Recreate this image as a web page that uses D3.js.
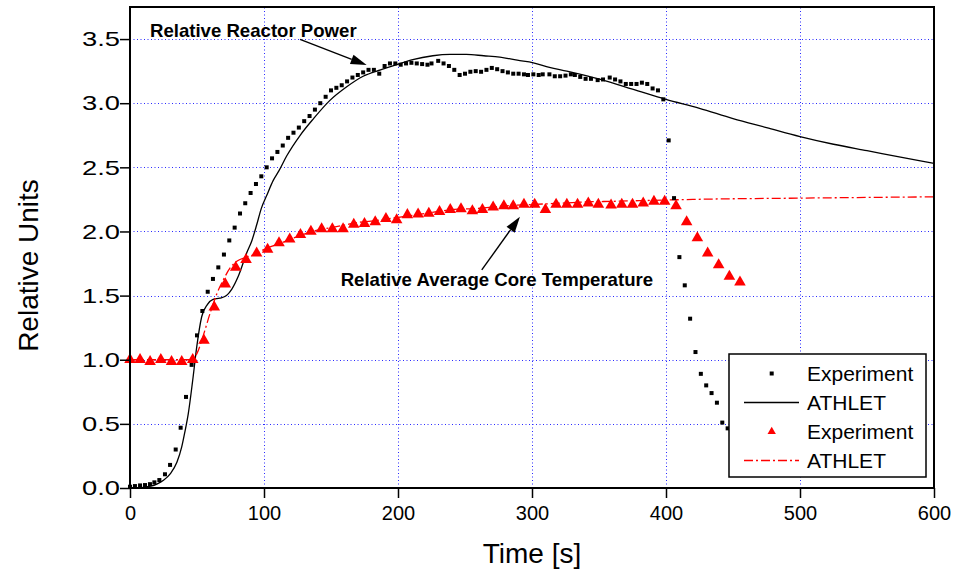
<!DOCTYPE html>
<html>
<head>
<meta charset="utf-8">
<script src="https://cdn.jsdelivr.net/npm/d3@7"></script>
<style>
  body { margin: 0; background: #fff; }
  text { font-family: Arial, "Liberation Sans", sans-serif; fill: #000; }
</style>
</head>
<body>
<svg id="chart" width="955" height="572"></svg>
<script>
// ---- data ----
const powerExpT = [0, 3.7, 7.5, 11.2, 14.9, 18.2, 21.9, 26.1, 29.9, 34.1, 37.8, 41.8, 46, 50, 54, 58, 61.9, 65.9, 70.1, 74.1,
  78.1, 82.1, 86, 90, 94, 98, 102, 106, 110, 114, 118, 122, 126, 130, 134, 138, 142, 146, 150, 154,
  158, 162, 166, 170, 174, 178, 182, 186, 190, 194, 198, 202, 206, 210, 214, 218, 222, 225, 230, 234,
  238, 242, 246, 250, 254, 258, 262, 266, 270, 274, 278, 282, 286, 290, 294, 297, 301, 305, 308, 313,
  317, 321, 325, 329, 332, 336, 340, 344, 349, 353, 358, 362, 366, 370, 374, 378, 382, 386, 390, 394,
  398, 402, 406, 410, 414, 418, 422, 426, 430, 434, 438, 442, 446]
const powerExpV = [0.01, 0.015, 0.02, 0.023, 0.03, 0.044, 0.062, 0.107, 0.18, 0.30, 0.47, 0.71, 0.96, 1.19, 1.38, 1.53, 1.63, 1.72, 1.82, 1.93,
  2.03, 2.14, 2.22, 2.30, 2.37, 2.43, 2.50, 2.57, 2.62, 2.67, 2.73, 2.77, 2.81, 2.86, 2.90, 2.95, 3.00, 3.05, 3.10, 3.12,
  3.14, 3.17, 3.20, 3.22, 3.24, 3.26, 3.26, 3.23, 3.29, 3.31, 3.31, 3.30, 3.31, 3.315, 3.31, 3.305, 3.30, 3.31, 3.33, 3.31,
  3.29, 3.26, 3.22, 3.23, 3.245, 3.25, 3.245, 3.26, 3.275, 3.265, 3.25, 3.24, 3.23, 3.23, 3.225, 3.22, 3.225, 3.22, 3.225, 3.225,
  3.21, 3.21, 3.215, 3.225, 3.22, 3.205, 3.19, 3.19, 3.18, 3.185, 3.20, 3.185, 3.17, 3.15, 3.15, 3.15, 3.16, 3.15, 3.115, 3.10,
  3.03, 2.71, 2.26, 1.80, 1.58, 1.32, 1.06, 0.89, 0.80, 0.74, 0.665, 0.51, 0.465]

const powerSimT = [0, 10, 20, 25, 30, 35, 38.6, 41, 43.5, 46.8, 49.8, 53.5, 57.7, 62, 67, 72, 76, 80.8, 87, 91,
  94.5, 98, 102, 107, 111, 117, 127, 137, 149, 162, 174, 187, 199, 211, 226, 239, 251, 264, 276, 289,
  301, 313, 326, 338, 351, 375, 400, 425, 450, 475, 500, 525, 550, 575, 600]
const powerSimV = [0, 0.005, 0.03, 0.06, 0.11, 0.2, 0.32, 0.44, 0.58, 0.84, 1.10, 1.335, 1.43, 1.47, 1.48, 1.50, 1.55, 1.65, 1.83, 1.93,
  2.05, 2.18, 2.28, 2.40, 2.47, 2.59, 2.75, 2.88, 3.02, 3.13, 3.21, 3.26, 3.30, 3.34, 3.37, 3.38, 3.38, 3.37, 3.36, 3.335,
  3.315, 3.28, 3.25, 3.22, 3.185, 3.11, 3.03, 2.96, 2.88, 2.81, 2.74, 2.68, 2.63, 2.58, 2.53]

const tempExpT = [0, 7.5, 15, 23, 31, 38.6, 46.8, 55.2, 62.9, 71.1, 78.9, 86.6, 94.5, 102.7, 111.2, 119.2, 127.2, 135, 143, 151,
  159, 167, 175, 183, 191, 199, 207, 215, 223, 231, 239, 247, 255.5, 263, 271, 279, 286, 294, 302, 310,
  318, 326, 334, 342, 349.5, 359, 367, 375, 383, 391, 399, 407.5, 415.4, 423.4, 431.1, 439.3, 447.3, 455.2]
const tempExpV = [1.0, 1.0, 0.985, 1.0, 0.985, 0.985, 1.0, 1.15, 1.41, 1.59, 1.72, 1.78, 1.83, 1.86, 1.91, 1.94, 1.975, 2.00, 2.02, 2.02,
  2.02, 2.055, 2.06, 2.075, 2.10, 2.09, 2.13, 2.135, 2.14, 2.155, 2.17, 2.175, 2.16, 2.17, 2.19, 2.20, 2.20, 2.21, 2.21, 2.17,
  2.21, 2.21, 2.21, 2.22, 2.21, 2.205, 2.21, 2.21, 2.22, 2.235, 2.235, 2.20, 2.075, 1.95, 1.83, 1.74, 1.65, 1.605]

const tempSimT = [0, 45, 48, 50, 55, 60, 65, 70, 75, 80, 87, 95, 100, 110, 120, 130, 140, 150, 160, 170,
  180, 200, 220, 240, 260, 280, 300, 320, 340, 360, 380, 400, 420, 500, 600]
const tempSimV = [1.0, 1.0, 1.02, 1.05, 1.2, 1.37, 1.52, 1.63, 1.72, 1.77, 1.80, 1.83, 1.86, 1.90, 1.94, 1.98, 2.01, 2.03, 2.05, 2.07,
  2.08, 2.11, 2.14, 2.17, 2.18, 2.20, 2.21, 2.22, 2.23, 2.235, 2.24, 2.245, 2.25, 2.26, 2.27]

const xTicks = [0, 100, 200, 300, 400, 500, 600]
const yTicks = [0, 0.5, 1.0, 1.5, 2.0, 2.5, 3.0, 3.5]
const legendLabels = ["Experiment", "ATHLET", "Experiment", "ATHLET"]
// annotations in data units: label, text anchor point, arrow tail, arrow tip
const notes = [
  { text: "Relative Reactor Power", tx: 14.9, tv: 3.52, from: [126.9, 3.497], to: [176.6, 3.297] },
  { text: "Relative Average Core Temperature", tx: 157.2, tv: 1.575, from: [262.5, 1.70], to: [291, 2.115] }
]

// ---- layout ----
const margin = { top: 7, right: 21, bottom: 84, left: 130 }
const W = 955, H = 572
const svg = d3.select("#chart")
const x = d3.scaleLinear().domain([0, 600]).range([margin.left, W - margin.right])
const y = d3.scaleLinear().domain([0, 3.75]).range([H - margin.bottom, margin.top])
const toPts = (ts, vs) => ts.map((t, i) => [t, vs[i]])

//--------- grid
svg.append("g").selectAll("line").data(xTicks.slice(1, -1)).join("line")
  .attr("x1", d => Math.round(x(d)) + 0.5).attr("x2", d => Math.round(x(d)) + 0.5).attr("y1", y(0)).attr("y2", y(3.75))
  .attr("stroke", "#2a2aff").attr("stroke-width", 1).attr("stroke-dasharray", "1,2.5")
svg.append("g").selectAll("line").data(yTicks.slice(1)).join("line")
  .attr("y1", d => Math.round(y(d)) + 0.5).attr("y2", d => Math.round(y(d)) + 0.5).attr("x1", x(0)).attr("x2", x(600))
  .attr("stroke", "#2a2aff").attr("stroke-width", 1).attr("stroke-dasharray", "1,2.5")

//--------- lines
const line = d3.line().curve(d3.curveMonotoneX).x(d => x(d[0])).y(d => y(d[1]))
svg.append("path").attr("d", line(toPts(powerSimT, powerSimV)))
  .attr("fill", "none").attr("stroke", "#000").attr("stroke-width", 1.3)
svg.append("path").attr("d", line(toPts(tempSimT, tempSimV)))
  .attr("fill", "none").attr("stroke", "#ff0000").attr("stroke-width", 1.3).attr("stroke-dasharray", "9,3,2,3")

//--------- markers
svg.append("g").selectAll("rect").data(toPts(powerExpT, powerExpV)).join("rect")
  .attr("x", d => x(d[0]) - 2).attr("y", d => y(d[1]) - 2).attr("width", 4).attr("height", 4).attr("fill", "#000")
const tri = d3.symbol().type(d3.symbolTriangle).size(58)
svg.append("g").selectAll("path").data(toPts(tempExpT, tempExpV)).join("path")
  .attr("d", tri).attr("transform", d => `translate(${x(d[0])},${y(d[1])})`).attr("fill", "#ff0000")

//--------- axes
const xAxis = svg.append("g").attr("transform", `translate(0,${y(0)})`)
xAxis.call(d3.axisBottom(x).tickValues(d3.range(50, 600, 100)).tickSize(6).tickFormat(""))
xAxis.call(d3.axisBottom(x).tickValues(xTicks).tickSize(10).tickFormat(d3.format("d")))
xAxis.selectAll("text").attr("font-size", 20).attr("y", 18).attr("dy", "0.71em")
const yAxis = svg.append("g").attr("transform", `translate(${x(0)},0)`)
yAxis.call(d3.axisLeft(y).tickValues(d3.range(0.25, 3.75, 0.5)).tickSize(6).tickFormat(""))
yAxis.call(d3.axisLeft(y).tickValues(yTicks).tickSize(10).tickFormat(d3.format(".1f")))
yAxis.selectAll("text").attr("font-size", 21).attr("x", -10)
  .attr("textLength", 38).attr("lengthAdjust", "spacingAndGlyphs")
svg.selectAll(".tick line").attr("stroke", "#000").attr("stroke-width", 1.5)
svg.selectAll(".domain").remove()
svg.append("rect").attr("x", x(0)).attr("y", y(3.75)).attr("width", x(600) - x(0)).attr("height", y(0) - y(3.75))
  .attr("fill", "none").attr("stroke", "#000").attr("stroke-width", 2)

svg.append("text").attr("x", (x(0) + x(600)) / 2).attr("y", 563).attr("text-anchor", "middle")
  .attr("font-size", 28).text("Time [s]")
svg.append("text").attr("transform", `translate(38,${(y(0) + y(3.75)) / 2 + 18}) rotate(-90)`)
  .attr("text-anchor", "middle").attr("font-size", 28).text("Relative Units")

//--------- annotations
notes.forEach(n => {
  svg.append("text").attr("x", x(n.tx)).attr("y", y(n.tv)).attr("font-size", 18.6)
    .attr("font-weight", "bold").text(n.text)
  const x1 = x(n.from[0]), y1 = y(n.from[1]), x2 = x(n.to[0]), y2 = y(n.to[1])
  const a = Math.atan2(y2 - y1, x2 - x1), L = 16, hw = 5
  const bx = x2 - L * Math.cos(a), by = y2 - L * Math.sin(a)
  svg.append("line").attr("x1", x1).attr("y1", y1).attr("x2", bx).attr("y2", by)
    .attr("stroke", "#000").attr("stroke-width", 1.4)
  svg.append("path").attr("fill", "#000")
    .attr("d", `M${x2},${y2}L${bx + hw * Math.sin(a)},${by - hw * Math.cos(a)}L${bx - hw * Math.sin(a)},${by + hw * Math.cos(a)}Z`)
})

//--------- legend
const lg = svg.append("g").attr("transform", "translate(729,354)")
lg.append("rect").attr("width", 197).attr("height", 123).attr("fill", "#fff").attr("stroke", "#000").attr("stroke-width", 1.5)
const rowY = i => 19.5 + i * 29
lg.selectAll("text").data(legendLabels).join("text")
  .attr("x", 78).attr("y", (d, i) => rowY(i) + 7.5).attr("font-size", 21).text(d => d)
lg.append("rect").attr("x", 40.7).attr("y", rowY(0) - 2).attr("width", 4).attr("height", 4).attr("fill", "#000")
lg.append("line").attr("x1", 15).attr("x2", 70).attr("y1", rowY(1)).attr("y2", rowY(1)).attr("stroke", "#000").attr("stroke-width", 1.3)
lg.append("path").attr("d", d3.symbol().type(d3.symbolTriangle).size(30)).attr("transform", `translate(42.7,${rowY(2)})`).attr("fill", "#ff0000")
lg.append("line").attr("x1", 15).attr("x2", 70).attr("y1", rowY(3)).attr("y2", rowY(3)).attr("stroke", "#ff0000")
  .attr("stroke-width", 1.3).attr("stroke-dasharray", "9,3,2,3")
</script>
</body>
</html>
